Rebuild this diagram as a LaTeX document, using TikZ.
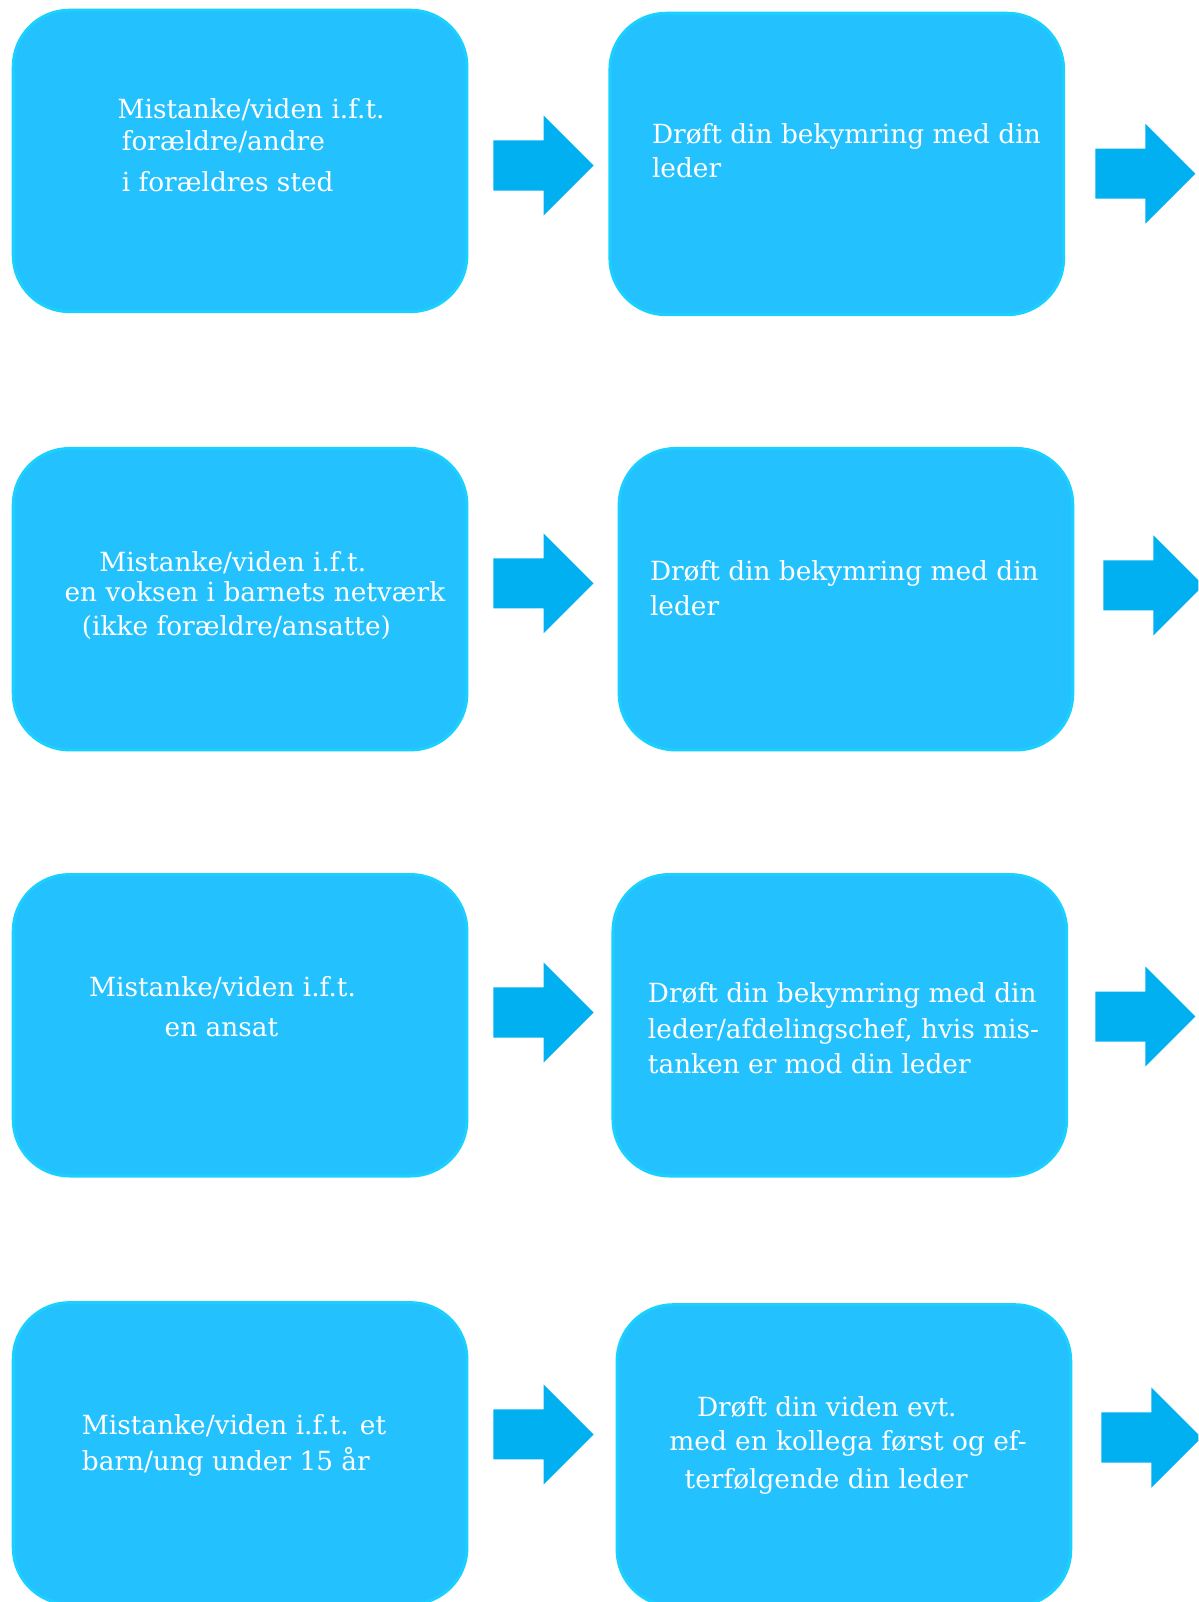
\documentclass[tikz,border=0pt]{standalone}
\usepackage{fontspec}
\setmainfont{DejaVu Serif}
\definecolor{boxfill}{HTML}{23C1FE}
\definecolor{boxline}{HTML}{1BD0FF}
\definecolor{arrowfill}{HTML}{00B0F0}

\begin{document}
\begin{tikzpicture}[
    x=1pt, y=-1pt,
    box/.style={draw=boxline, fill=boxfill, line width=3pt, rounded corners=55pt,
      minimum width=444pt, minimum height=295pt, inner sep=0pt, anchor=north west},
    txt/.style={text=white, anchor=base west, align=left, inner sep=0pt,
      font=\fontsize{25.8}{35}\selectfont}
    ]
    \useasboundingbox (0,0) rectangle (1173,1568);
    \clip (0,0) rectangle (1173,1568);

    % boxes
    \node[box] (l1) at (11.5,8.5) {};
    \node[box] (r1) at (595.5,11.5) {};
    \node[box] (l2) at (11.5,437.5) {};
    \node[box] (r2) at (604.5,437.5) {};
    \node[box] (l3) at (11.5,854.5) {};
    \node[box] (r3) at (598.5,854.5) {};
    \node[box] (l4) at (11.5,1273.5) {};
    \node[box] (r4) at (602.5,1275.5) {};

    % texts (placed at the baseline of the last line)
    \node[txt] (l1txt) at (115,187) {Mistanke/viden i.f.t.\\[-4pt]
      \hspace*{4pt}forældre/andre\\[5pt]\hspace*{4pt}i forældres sted};
    \node[txt] (r1txt) at (638,174) {Drøft din bekymring med din\\[-1pt]leder};
    \node[txt] (l2txt) at (63,622) {\hspace*{34pt}Mistanke/viden i.f.t.\\[-5pt]
      en voksen i barnets netværk\\[-2pt]\hspace*{17pt}(ikke forældre/ansatte)};
    \node[txt] (r2txt) at (636,602) {Drøft din bekymring med din\\[-1pt]leder};
    \node[txt] (l3txt) at (87,1014) {Mistanke/viden i.f.t.\\[4pt]\hspace*{74pt}en ansat};
    \node[txt] (r3txt) at (634,1051) {Drøft din bekymring med din\\
      leder/afdelingschef, hvis mis-\\tanken er mod din leder};
    \node[txt] (l4txt) at (80,1439) {Mistanke/viden i.f.t. et\\barn/ung under 15 år};
    \node[txt] (r4txt) at (655,1457) {\hspace*{27pt}Drøft din viden evt.\\[-1pt]
      med en kollega først og ef-\\[2pt]\hspace*{15pt}terfølgende din leder};

    % block arrows
    \foreach \ax/\ay in {483/162, 1072/170, 483/571, 1080/573,
                         483/991, 1072/995, 483/1404, 1078/1407}
      \fill[arrowfill] (\ax,\ay-24.5) -- ++(49,0) -- ++(0,-24.5) -- ++(49,49)
        -- ++(-49,49) -- ++(0,-24.5) -- ++(-49,0) -- cycle;
\end{tikzpicture}
\end{document}
